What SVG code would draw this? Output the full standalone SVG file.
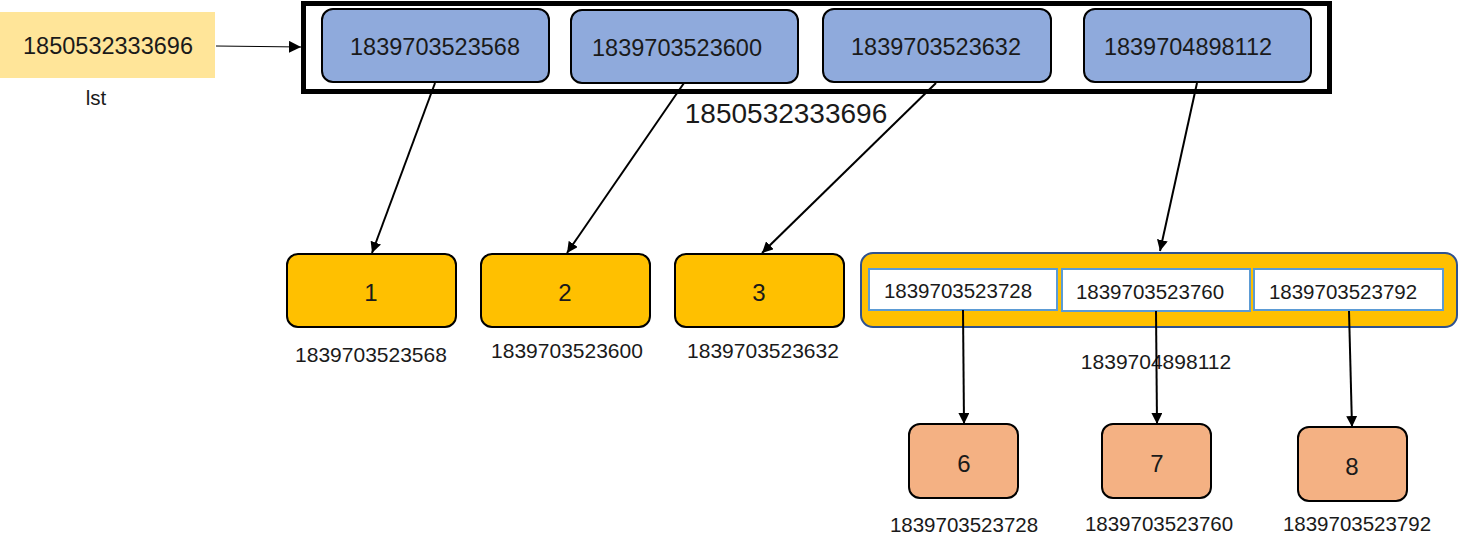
<svg xmlns="http://www.w3.org/2000/svg" width="1458" height="549" viewBox="0 0 1458 549">
<style>
text{font-family:"Liberation Sans",Arial,sans-serif;fill:#1a1a1a;text-anchor:middle;dominant-baseline:central}
.blue{fill:#8FAADC;stroke:#000;stroke-width:2}
.yel{fill:#FFC000;stroke:#000;stroke-width:2}
.org{fill:#F4B183;stroke:#000;stroke-width:2}
.cell{fill:#fff;stroke:#5B9BD5;stroke-width:2}
.t23{font-size:23.5px}
.t21{font-size:21px}
.t20{font-size:20.5px}
.n{font-size:24px}
.c{stroke:#000;stroke-width:2;fill:none;marker-end:url(#ah)}
</style>
<defs>
<marker id="ah" viewBox="0 0 10 10" refX="10" refY="5" markerWidth="11" markerHeight="11" markerUnits="userSpaceOnUse" orient="auto"><path d="M0,0L10,5L0,10z" fill="#000"/></marker>
<marker id="ah2" viewBox="0 0 10 10" refX="10" refY="5" markerWidth="12" markerHeight="12" markerUnits="userSpaceOnUse" orient="auto"><path d="M0,0L10,5L0,10z" fill="#000"/></marker>
</defs>
<rect width="1458" height="549" fill="#fff"/>
<g id="lst">
<rect x="0" y="12" width="215" height="66" fill="#FFE599"/>
<text x="108" y="46" class="t23">1850532333696</text>
<text x="96" y="97" class="t20">lst</text>
</g>
<g id="list">
<rect x="303.5" y="3.5" width="1026" height="88" fill="none" stroke="#000" stroke-width="5"/>
<text x="786" y="113" font-size="28">1850532333696</text>
</g>
<g id="p1"><rect class="blue" x="322" y="9" width="227" height="73" rx="11"/><text x="435" y="47" class="t23">1839703523568</text></g>
<g id="p2"><rect class="blue" x="571" y="10" width="227" height="73" rx="11"/><text x="677" y="48" class="t23">1839703523600</text></g>
<g id="p3"><rect class="blue" x="823" y="9" width="228" height="73" rx="11"/><text x="936" y="47" class="t23">1839703523632</text></g>
<g id="p4"><rect class="blue" x="1084" y="9" width="227" height="73" rx="11"/><text x="1188" y="47" class="t23">1839704898112</text></g>
<g id="v1"><rect class="yel" x="287" y="254" width="169" height="73" rx="11"/><text x="371" y="292" class="n">1</text><text x="371" y="354" class="t21">1839703523568</text></g>
<g id="v2"><rect class="yel" x="481" y="254" width="169" height="73" rx="11"/><text x="565" y="292" class="n">2</text><text x="567" y="350" class="t21">1839703523600</text></g>
<g id="v3"><rect class="yel" x="675" y="254" width="169" height="73" rx="11"/><text x="759" y="292" class="n">3</text><text x="763" y="350" class="t21">1839703523632</text></g>
<g id="sub">
<rect x="861" y="253" width="596" height="74" rx="12" fill="#FFC000" stroke="#2F528F" stroke-width="2"/>
<rect class="cell" x="869" y="269" width="188" height="41"/><text x="958" y="290" class="t20">1839703523728</text>
<rect class="cell" x="1062" y="269" width="188" height="42"/><text x="1150" y="291" class="t20">1839703523760</text>
<rect class="cell" x="1254" y="269" width="189" height="41"/><text x="1343" y="291" class="t20">1839703523792</text>
<text x="1156" y="361" class="t21">1839704898112</text>
</g>
<g id="v6"><rect class="org" x="909" y="424" width="109" height="74" rx="11"/><text x="964" y="463" class="n">6</text><text x="964" y="524" class="t20">1839703523728</text></g>
<g id="v7"><rect class="org" x="1102" y="424" width="109" height="74" rx="11"/><text x="1157" y="463" class="n">7</text><text x="1159" y="523" class="t20">1839703523760</text></g>
<g id="v8"><rect class="org" x="1298" y="427" width="109" height="74" rx="11"/><text x="1352" y="466" class="n">8</text><text x="1357" y="523" class="t20">1839703523792</text></g>
<g id="connectors">
<path d="M216,46L301,47" stroke="#000" stroke-width="1" fill="none" marker-end="url(#ah2)"/>
<path class="c" d="M435,83L372,253"/>
<path class="c" d="M684,83L567,253"/>
<path class="c" d="M936,83L762,253"/>
<path class="c" d="M1197,83L1160,251"/>
<path class="c" d="M963,310L964,424"/>
<path class="c" d="M1156,311L1157,424"/>
<path class="c" d="M1349,311L1352,427"/>
</g>
</svg>
